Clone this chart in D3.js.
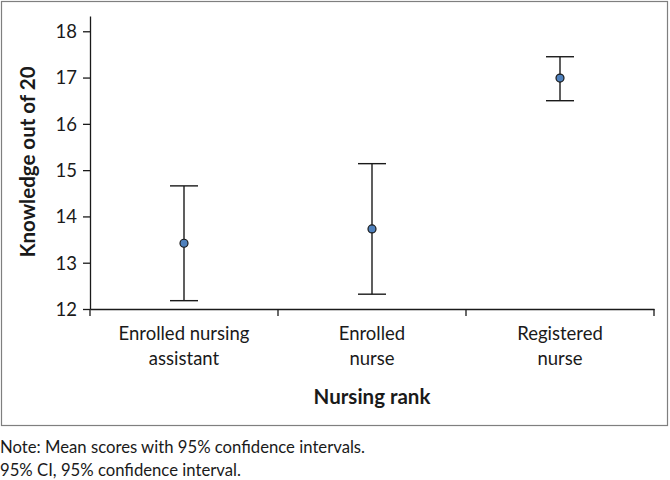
<!DOCTYPE html>
<html>
<head>
<meta charset="utf-8">
<script src="https://cdn.jsdelivr.net/npm/d3@7"></script>
<style>
  body { margin: 0; background: #fff; }
  svg text { font-family: Lato, "Open Sans", sans-serif; fill: #1a1a1a; }
</style>
</head>
<body>
<div id="chart"></div>
<script>
/*********************************************************/
// Data
const categories = ["Enrolled nursing assistant", "Enrolled nurse", "Registered nurse"];
const categoryLines = [["Enrolled nursing", "assistant"], ["Enrolled", "nurse"], ["Registered", "nurse"]];
const means = [13.42, 13.73, 16.99];
const ciLower = [12.18, 12.32, 16.50];
const ciUpper = [14.66, 15.14, 17.45];
const yTicks = [12, 13, 14, 15, 16, 17, 18];
const notes = ["Note: Mean scores with 95% confidence intervals.", "95% CI, 95% confidence interval."];

/*********************************************************/
const svgWidth = 670;
const svgHeight = 480;

const svg = d3.select("#chart")
  .append("svg")
  .attr("width", svgWidth)
  .attr("height", svgHeight);

// outer frame
svg.append("rect")
  .attr("x", 1.5).attr("y", 1.5)
  .attr("width", 666).attr("height", 424)
  .attr("fill", "none")
  .attr("stroke", "#7f7f7f")
  .attr("stroke-width", 1.2);

/******************** Scales ********************/
const xScale = d3.scaleBand()
  .domain(categories)
  .range([90, 654])
  .padding(0);

const yScale = d3.scaleLinear()
  .domain([12, 18.33])
  .range([309, 16]);

/******************** Axes ********************/
const leftAxis = d3.axisLeft(yScale)
  .tickValues(yTicks)
  .tickFormat(d3.format("d"))
  .tickSize(7)
  .tickSizeOuter(0)
  .tickPadding(6);

const yAxisG = svg.append("g")
  .attr("transform", "translate(90,0)")
  .call(leftAxis);
yAxisG.selectAll("text").attr("font-size", "18.5px").attr("dy", "0.34em");
yAxisG.selectAll("line, path").attr("stroke", "#1a1a1a").attr("stroke-width", 1.3);

const bottomAxis = d3.axisBottom(xScale)
  .tickSize(0)
  .tickSizeOuter(0)
  .tickFormat("");

const xAxisG = svg.append("g")
  .attr("transform", "translate(0,309)")
  .call(bottomAxis);
xAxisG.selectAll("path").attr("stroke", "#1a1a1a").attr("stroke-width", 1.3);

// tick marks at category boundaries (Excel style)
const boundaries = categories.map(c => xScale(c)).concat([xScale.range()[1]]);
xAxisG.selectAll(".boundary")
  .data(boundaries)
  .enter()
  .append("line")
  .attr("x1", d => d).attr("x2", d => d)
  .attr("y1", 0).attr("y2", 7)
  .attr("stroke", "#1a1a1a")
  .attr("stroke-width", 1.3);

// category labels, two lines each
const labelG = svg.append("g");
categories.forEach((c, i) => {
  const t = labelG.append("text")
    .attr("x", xScale(c) + xScale.bandwidth() / 2)
    .attr("y", 340)
    .attr("text-anchor", "middle")
    .attr("font-size", "18.5px");
  categoryLines[i].forEach((line, j) => {
    t.append("tspan")
      .attr("x", xScale(c) + xScale.bandwidth() / 2)
      .attr("dy", j === 0 ? 0 : 25)
      .text(line);
  });
});

/******************** Axis titles ********************/
svg.append("text")
  .attr("transform", "translate(35,162) rotate(-90)")
  .attr("text-anchor", "middle")
  .attr("font-size", "20.5px")
  .attr("font-weight", "bold")
  .text("Knowledge out of 20");

svg.append("text")
  .attr("x", 372)
  .attr("y", 404)
  .attr("text-anchor", "middle")
  .attr("font-size", "20.5px")
  .attr("font-weight", "bold")
  .text("Nursing rank");

/******************** Error bars and points ********************/
const capHalf = 14;
const cx = (d, i) => xScale(categories[i]) + xScale.bandwidth() / 2;

const bars = svg.append("g")
  .attr("stroke", "#1a1a1a")
  .attr("stroke-width", 1.4);

bars.selectAll(".stem")
  .data(means)
  .enter()
  .append("line")
  .attr("x1", cx).attr("x2", cx)
  .attr("y1", (d, i) => yScale(ciLower[i]))
  .attr("y2", (d, i) => yScale(ciUpper[i]));

bars.selectAll(".capTop")
  .data(ciUpper)
  .enter()
  .append("line")
  .attr("x1", (d, i) => cx(d, i) - capHalf)
  .attr("x2", (d, i) => cx(d, i) + capHalf)
  .attr("y1", d => yScale(d))
  .attr("y2", d => yScale(d));

bars.selectAll(".capBottom")
  .data(ciLower)
  .enter()
  .append("line")
  .attr("x1", (d, i) => cx(d, i) - capHalf)
  .attr("x2", (d, i) => cx(d, i) + capHalf)
  .attr("y1", d => yScale(d))
  .attr("y2", d => yScale(d));

svg.selectAll(".meanPoint")
  .data(means)
  .enter()
  .append("circle")
  .classed("meanPoint", true)
  .attr("cx", cx)
  .attr("cy", d => yScale(d))
  .attr("r", 4)
  .attr("fill", "#4f81bd")
  .attr("stroke", "#1a1a1a")
  .attr("stroke-width", 1.2);

/******************** Notes ********************/
svg.selectAll(".note")
  .data(notes)
  .enter()
  .append("text")
  .attr("x", 0)
  .attr("y", (d, i) => 453 + i * 23)
  .attr("font-size", "16.7px")
  .text(d => d);
</script>
</body>
</html>
